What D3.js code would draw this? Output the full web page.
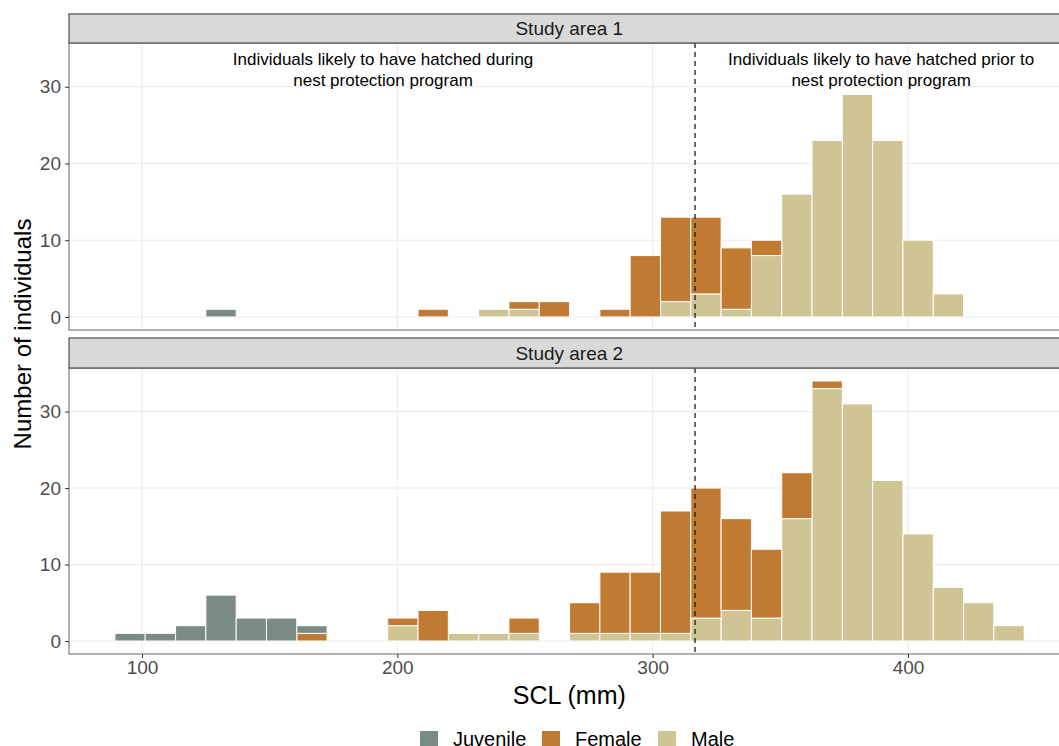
<!DOCTYPE html>
<html>
<head>
<meta charset="utf-8">
<script src="https://cdn.jsdelivr.net/npm/d3@7"></script>
<style>
  body { margin: 0; background: #fff; }
  text { font-family: "Liberation Sans", Arial, sans-serif; }
</style>
</head>
<body>
<div id="chart_container"></div>
<script>
// Global Variables

const W = 1059
const H = 746
const panelLeft = 69
const tickSize = "19px"

// Histogram bins (mm), 30 bins shared by both facets
const binStart = 89.4
const binWidth = 11.87
const binCount = 30

const groups = ["Juvenile", "Female", "Male"]
const colors = { Juvenile: "#7a8b85", Female: "#c17a32", Male: "#cfc494" }

const xTicks = [100, 200, 300, 400]
const yTicks = [0, 10, 20, 30]
const cutoff = 316.6

// counts per bin, Study area 1
const juvenile1 = [0,0,0,1,0,0,0,0,0,0, 0,0,0,0,0,0,0,0,0,0, 0,0,0,0,0,0,0,0,0,0]
const female1   = [0,0,0,0,0,0,0,0,0,0, 1,0,0,1,2,0,1,8,11,10, 8,2,0,0,0,0,0,0,0,0]
const male1     = [0,0,0,0,0,0,0,0,0,0, 0,0,1,1,0,0,0,0,2,3, 1,8,16,23,29,23,10,3,0,0]

// counts per bin, Study area 2
const juvenile2 = [1,1,2,6,3,3,1,0,0,0, 0,0,0,0,0,0,0,0,0,0, 0,0,0,0,0,0,0,0,0,0]
const female2   = [0,0,0,0,0,0,1,0,0,1, 4,0,0,2,0,4,8,8,16,17, 12,9,6,1,0,0,0,0,0,0]
const male2     = [0,0,0,0,0,0,0,0,0,2, 0,1,1,1,0,1,1,1,1,3, 4,3,16,33,31,21,14,7,5,2]

const panels = [
  { title: "Study area 1", Juvenile: juvenile1, Female: female1, Male: male1, stripTop: 14, top: 43, bottom: 330 },
  { title: "Study area 2", Juvenile: juvenile2, Female: female2, Male: male2, stripTop: 338, top: 368, bottom: 654 }
]

const annotations = [
  { x: 194.4, lines: ["Individuals likely to have hatched during", "nest protection program"] },
  { x: 389.5, lines: ["Individuals likely to have hatched prior to", "nest protection program"] }
]

// Scales

const x = d3.scaleLinear().domain([100, 400]).range([142, 908])
const binEnd = binStart + binCount * binWidth
const pad = (binEnd - binStart) * 0.05
const panelRight = x(binEnd + pad)
const yMax = d3.max(panels, p => d3.max(d3.range(binCount), i => p.Juvenile[i] + p.Female[i] + p.Male[i]))
const yDomain = [-yMax * 0.05, yMax * 1.05]

const svg = d3.select("#chart_container").append("svg")
  .attr("width", W)
  .attr("height", H)

svg.append("defs").append("clipPath").attr("id", "clipAll")
  .append("rect").attr("x", 0).attr("y", 0).attr("width", W).attr("height", H)

const stack = d3.stack().keys(["Male", "Female", "Juvenile"])

panels.forEach((p, pi) => {
  const y = d3.scaleLinear().domain(yDomain).range([p.bottom, p.top])
  const g = svg.append("g")

  // panel background and grid
  g.append("rect")
    .attr("x", panelLeft).attr("y", p.top)
    .attr("width", panelRight - panelLeft).attr("height", p.bottom - p.top)
    .attr("fill", "#fff")

  g.selectAll(".xgrid").data(xTicks).join("line")
    .attr("x1", d => x(d)).attr("x2", d => x(d))
    .attr("y1", p.top).attr("y2", p.bottom)
    .attr("stroke", "#ebebeb").attr("stroke-width", 1.1)

  g.selectAll(".ygrid").data(yTicks).join("line")
    .attr("x1", panelLeft).attr("x2", panelRight)
    .attr("y1", d => y(d)).attr("y2", d => y(d))
    .attr("stroke", "#ebebeb").attr("stroke-width", 1.1)

  // stacked bars
  const rows = d3.range(binCount).map(i => ({
    x0: binStart + i * binWidth,
    x1: binStart + (i + 1) * binWidth,
    Juvenile: p.Juvenile[i], Female: p.Female[i], Male: p.Male[i]
  }))
  const series = stack(rows)

  g.selectAll(".layer").data(series).join("g")
    .attr("fill", d => colors[d.key])
    .selectAll("rect").data(d => d).join("rect")
      .attr("x", d => x(d.data.x0))
      .attr("width", d => x(d.data.x1) - x(d.data.x0))
      .attr("y", d => y(d[1]))
      .attr("height", d => y(d[0]) - y(d[1]))
      .attr("stroke", "#fff")
      .attr("stroke-width", 1)

  // cutoff line
  g.append("line")
    .attr("x1", x(cutoff)).attr("x2", x(cutoff))
    .attr("y1", p.top).attr("y2", p.bottom)
    .attr("stroke", "#1a1a1a").attr("stroke-width", 1.3)
    .attr("stroke-dasharray", "5,4")

  // annotations on the first panel
  if (pi === 0) {
    annotations.forEach(a => {
      a.lines.forEach((line, li) => {
        g.append("text")
          .attr("x", x(a.x)).attr("y", 65 + li * 21)
          .attr("text-anchor", "middle")
          .style("font-size", "17px")
          .attr("fill", "#000")
          .text(line)
      })
    })
  }

  // panel border
  g.append("rect")
    .attr("x", panelLeft).attr("y", p.top)
    .attr("width", panelRight - panelLeft).attr("height", p.bottom - p.top)
    .attr("fill", "none").attr("stroke", "#7f7f7f").attr("stroke-width", 1.2)

  // strip
  g.append("rect")
    .attr("x", panelLeft).attr("y", p.stripTop)
    .attr("width", panelRight - panelLeft).attr("height", p.top - p.stripTop)
    .attr("fill", "#d9d9d9").attr("stroke", "#4d4d4d").attr("stroke-width", 1.2)

  g.append("text")
    .attr("x", (panelLeft + panelRight) / 2)
    .attr("y", (p.stripTop + p.top) / 2)
    .attr("dy", "0.35em")
    .attr("text-anchor", "middle")
    .style("font-size", "19px")
    .attr("fill", "#1a1a1a")
    .text(p.title)

  // y axis
  const yAxis = g.append("g")
    .attr("transform", `translate(${panelLeft}, 0)`)
    .call(d3.axisLeft(y).tickValues(yTicks).tickSize(4).tickPadding(4))
  yAxis.select(".domain").remove()
  yAxis.selectAll(".tick line").attr("stroke", "#333")
  yAxis.selectAll(".tick text").attr("fill", "#4d4d4d").style("font-size", tickSize)
    .style("font-family", "Liberation Sans, Arial, sans-serif")
})

// x axis under the last panel
const xAxis = svg.append("g")
  .attr("transform", `translate(0, ${panels[1].bottom})`)
  .call(d3.axisBottom(x).tickValues(xTicks).tickSize(4).tickPadding(3))
xAxis.select(".domain").remove()
xAxis.selectAll(".tick line").attr("stroke", "#333")
xAxis.selectAll(".tick text").attr("fill", "#4d4d4d").style("font-size", tickSize)
  .style("font-family", "Liberation Sans, Arial, sans-serif")

// axis titles
svg.append("text")
  .attr("x", (panelLeft + panelRight) / 2)
  .attr("y", 704)
  .attr("text-anchor", "middle")
  .style("font-size", "25px")
  .attr("fill", "#000")
  .text("SCL (mm)")

svg.append("text")
  .attr("transform", "rotate(-90)")
  .attr("x", -((panels[0].stripTop + panels[1].bottom) / 2))
  .attr("y", 31)
  .attr("text-anchor", "middle")
  .style("font-size", "24px")
  .attr("fill", "#000")
  .text("Number of individuals")

// legend
const legendX = [420, 542, 658]
const legend = svg.append("g")
groups.forEach((k, i) => {
  legend.append("rect")
    .attr("x", legendX[i]).attr("y", 731)
    .attr("width", 18).attr("height", 18)
    .attr("fill", colors[k])
  legend.append("text")
    .attr("x", legendX[i] + 33).attr("y", 746)
    .style("font-size", "20px")
    .attr("fill", "#000")
    .text(k)
})
</script>
</body>
</html>
